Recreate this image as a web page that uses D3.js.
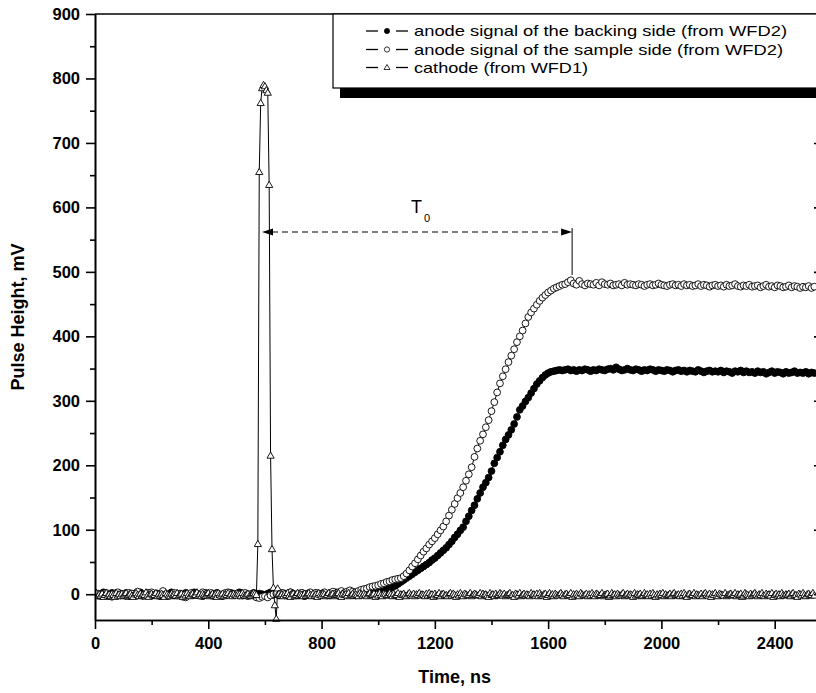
<!DOCTYPE html>
<html>
<head>
<meta charset="utf-8">
<script src="https://cdn.jsdelivr.net/npm/d3@7"></script>
<style>
  html, body { margin: 0; padding: 0; background: #fff; }
  svg { display: block; }
  text { font-family: Arial, "Liberation Sans", sans-serif; fill: #000; }
</style>
</head>
<body>
<svg id="chart" width="816" height="693"></svg>
<script>
// ---------------- DATA ----------------
const xTicks = [0, 400, 800, 1200, 1600, 2000, 2400];
const yTicks = [0, 100, 200, 300, 400, 500, 600, 700, 800, 900];
const xLabel = "Time, ns";
const yLabel = "Pulse Height, mV";
const legendLabels = [
  "anode signal of the backing side (from WFD2)",
  "anode signal of the sample side (from WFD2)",
  "cathode (from WFD1)"
];
// anode signals sampled every 10 ns starting at 0 ns
const anodeStepNs = 10;
const backingMV = [
  1,-2,0,3,-1,-3,2,0,-2,1, -1,2,-3,0,1,-2,3,-1,0,2, -2,0,1,-3,2,-1,0,3,-2,1, 0,-1,2,-2,1,3,-1,0,-3,2,
  1,-2,0,2,-1,-3,1,0,2,-1, 0,3,-2,1,-1,0,2,-3,1,0, -2,1,3,-1,0,-2,2,1,-1,3, 0,-2,1,2,-3,0,1,-1,2,0,
  -1,2,0,-2,1,3,-1,0,2,-1, 1,0,-2,2,1,0,3,1,2,1,
  3,4,5,7,9,11,13,16,19,22,
  25,28,31,34,37,40,43,46,49,53,
  56,60,64,68,72,77,82,88,93,99,
  104,113,121,130,138,148,157,166,173,181,
  191,203,212,221,231,240,247,255,264,275,
  286,292,299,305,312,319,326,331,336,340,
  343,345,346,347,348,347,348,349,347,348,
  346,348,347,349,348,346,348,347,349,348,
  347,349,350,348,352,349,347,348,350,348,
  347,349,348,346,348,347,349,348,346,348,
  347,346,348,347,345,347,348,346,347,345,
  347,346,345,348,346,344,346,347,345,346,
  345,347,344,346,345,343,346,345,347,344,
  346,344,345,343,346,344,345,342,344,346,
  343,345,344,342,345,343,344,346,343,344,
  343,345,342,344,343
];
const sampleMV = [
  -2,1,-3,0,2,-1,-4,1,3,-2, 0,-3,2,1,-2,4,-1,-3,0,2, 3,-1,-2,1,5,0,-3,-1,2,-2, 1,-4,-5,0,2,-1,1,-2,3,0,
  -1,2,-3,1,0,-2,2,3,-1,0, 1,-2,-1,2,-3,0,1,-5,-6,-4, -3,-5,-2,0,1,-1,2,-2,0,3, 1,-1,-2,2,0,1,3,-1,2,0,
  1,3,-2,2,4,1,3,5,2,4,
  6,4,3,5,7,8,9,11,12,13,
  14,16,17,19,20,22,23,24,25,28,
  32,37,43,48,54,60,66,71,77,82,
  87,93,99,105,113,122,131,140,149,157,
  166,176,186,197,213,226,238,248,259,270,
  284,298,313,327,338,349,360,370,380,391,
  400,409,420,430,437,443,449,455,460,464,
  468,471,474,476,478,480,481,484,487,482,
  480,486,481,479,482,481,480,483,479,484,
  481,480,482,479,480,481,479,483,480,481,
  480,479,481,480,478,480,481,479,480,482,
  480,479,478,480,481,479,480,478,481,479,
  480,478,479,481,478,480,479,477,479,480,
  478,479,477,480,478,479,481,478,477,479,
  478,480,477,478,479,476,478,480,477,478,
  476,479,478,476,477,479,476,478,477,475,
  477,476,478,475,477
];
// cathode sampled every 5 ns starting at 0 ns
const cathodeStepNs = 5;
const cathodeMV = [
  -1,2,-3,0,-2,1,-4,-1,2,-2,0,-3,1,-1,-4,2,-2,0,-3,1,
  -2,0,2,-3,-1,1,-2,-4,0,2,-1,-3,1,-2,0,-1,3,-2,-4,0,
  1,-2,-1,2,-3,0,-2,1,-1,-4,2,0,-2,-3,1,-1,0,-2,2,-3,
  -1,1,-4,0,-2,2,-1,-3,0,1,-2,-1,3,-2,0,-3,1,-1,-2,0,
  2,-3,-1,1,-2,0,-4,2,-1,-2,1,-3,0,-1,2,-2,0,-3,1,-1,
  -2,1,0,-3,2,-1,-2,0,1,-3,-2,0,2,1,-1,
  78,655,762,785,790,788,782,778,635,215,70,10,-17,-38,
  9,1,-2,0,-3,1,-1,2,-2,-4,0,1,-3,-1,2,-2,0,-1,-3,1,
  -2,0,2,-1,-3,1,-2,0,-4,2,-1,-2,1,0,-3,-1,2,-2,0,1,
  -3,-1,0,2,-2,-4,1,-1,0,-2,2,-3,-1,1,-2,0,-1,-3,2,0,
  -2,1,-1,-3,0,2,-2,-1,1,-4,0,-2,2,-1,-3,1,0,-2,-1,2,
  0,-3,1,-2,-1,2,-4,0,-1,1,-2,-3,0,2,-1,-2,1,-3,0,-1,
  2,-2,0,-1,-3,1,-2,2,-1,0,-4,1,-2,-1,2,-3,0,1,-2,-1,
  -3,0,2,-2,1,-1,-4,0,-2,2,-1,-3,1,0,-2,-1,2,-3,-1,1,
  0,-2,-1,2,-3,1,-1,0,-2,-4,2,-1,0,-3,1,-2,-1,2,0,-2,
  1,-3,-1,0,2,-2,-1,-4,1,0,-2,2,-3,-1,1,-2,0,-1,-3,2,
  -1,0,-2,1,-3,2,-1,-2,0,1,-4,-1,2,-2,0,-3,1,-1,-2,0,
  2,-1,-3,0,1,-2,-1,2,-4,0,-2,1,-1,-3,2,0,-2,-1,1,-3,
  0,-2,2,-1,-3,1,0,-2,-1,2,-3,-1,0,1,-4,-2,2,-1,0,-3,
  1,-1,-2,0,2,-3,-1,1,-2,0,-1,-4,2,-2,0,-1,1,-3,-2,2,
  -1,0,-3,1,-2,2,-1,-4,0,-2,1,-1,2,-3,0,-2,-1,1,-3,0,
  2,-2,-1,0,-3,1,-2,2,-1,-4,0,1,-2,-1,2,-3,0,-1,-2,1,
  -3,0,2,-1,-2,1,-4,0,-1,2,-2,-3,1,0,-1,-2,2,-3,-1,0,
  1,-2,-1,2,-3,0,-1,1,-4,-2,2,0,-1,-3,1,-2,0,2,-1,-3,
  0,-1,2,-2,-3,1,-1,0,-2,2,-4,-1,1,-2,0,-3,2,-1,-2,0,
  -1,1,-3,0,2,-2,-1,-4,1,0,-2,2,-1,-3,0,1,-2,-1,2,-2
];
// T0 annotation: from cathode peak to sample-side plateau start
const t0EndNs = 1690;

// ---------------- CHART ----------------
const svg = d3.select("#chart");
const x = d3.scaleLinear().domain([0, 2560]).range([95, 820]);
const y = d3.scaleLinear().domain([-40, 900]).range([620, 14]);
const fmt = d3.format("d");

const toPts = (arr, step) => arr.map((v, i) => ({t: i * step, v}));
const backing = toPts(backingMV, anodeStepNs);
const sample = toPts(sampleMV, anodeStepNs);
const cathode = toPts(cathodeMV, cathodeStepNs);

svg.append("defs").append("clipPath").attr("id", "plotclip")
  .append("rect").attr("x", x(0)).attr("y", y(900) - 6)
  .attr("width", x(2560) - x(0)).attr("height", y(-40) - y(900) + 12);

const line = d3.line().x(d => x(d.t)).y(d => y(d.v));
const plot = svg.append("g").attr("clip-path", "url(#plotclip)");

function drawSeries(data, kind) {
  const g = plot.append("g");
  g.append("path").datum(data).attr("d", line)
    .attr("fill", "none").attr("stroke", "#000").attr("stroke-width", 1);
  if (kind === "tri") {
    g.selectAll("path.sym").data(data).enter().append("path")
      .attr("class", "sym")
      .attr("d", d => { const cx = x(d.t), cy = y(d.v);
        return `M${cx},${cy-3.6}L${cx+3.6},${cy+2.6}L${cx-3.6},${cy+2.6}Z`; })
      .attr("fill", "#fff").attr("stroke", "#000").attr("stroke-width", 0.9);
  } else {
    g.selectAll("circle").data(data).enter().append("circle")
      .attr("cx", d => x(d.t)).attr("cy", d => y(d.v)).attr("r", 3.4)
      .attr("fill", kind === "filled" ? "#000" : "#fff")
      .attr("stroke", "#000").attr("stroke-width", 0.9);
  }
}
drawSeries(backing, "filled");
drawSeries(sample, "open");
drawSeries(cathode, "tri");

// ---------------- AXES ----------------
const axStroke = 1.6;
function styleAxis(g) {
  g.select(".domain").attr("stroke", "#000").attr("stroke-width", axStroke);
  g.selectAll(".tick line").attr("stroke", "#000").attr("stroke-width", axStroke);
}
function styleLabels(g) {
  g.selectAll(".tick text").attr("font-size", 16.5).attr("font-weight", "bold")
    .attr("font-family", "Arial, 'Liberation Sans', sans-serif").attr("fill", "#000");
}
const xMinor = d3.range(200, 2560, 400);
const yMinor = d3.range(50, 900, 100);

// bottom
svg.append("g").attr("transform", `translate(0,${y(-40)})`)
  .call(d3.axisBottom(x).tickValues(xMinor).tickSize(5).tickFormat("").tickSizeOuter(0))
  .call(styleAxis);
svg.append("g").attr("transform", `translate(0,${y(-40)})`)
  .call(d3.axisBottom(x).tickValues(xTicks).tickSize(9).tickPadding(8).tickSizeOuter(0).tickFormat(fmt))
  .call(styleAxis).call(styleLabels);
// left
svg.append("g").attr("transform", `translate(${x(0)},0)`)
  .call(d3.axisLeft(y).tickValues(yMinor).tickSize(5).tickFormat("").tickSizeOuter(0))
  .call(styleAxis);
svg.append("g").attr("transform", `translate(${x(0)},0)`)
  .call(d3.axisLeft(y).tickValues(yTicks).tickSize(9).tickPadding(6).tickSizeOuter(0).tickFormat(fmt))
  .call(styleAxis).call(styleLabels);
// right (inward ticks)
svg.append("g").attr("transform", `translate(${x(2560)},0)`)
  .call(d3.axisLeft(y).tickValues(yMinor).tickSize(3).tickFormat("").tickSizeOuter(0))
  .call(styleAxis);
svg.append("g").attr("transform", `translate(${x(2560)},0)`)
  .call(d3.axisLeft(y).tickValues(yTicks).tickSize(6).tickFormat("").tickSizeOuter(0))
  .call(styleAxis);
// top
svg.append("line").attr("x1", x(0)).attr("x2", x(2560)).attr("y1", y(900)).attr("y2", y(900))
  .attr("stroke", "#000").attr("stroke-width", axStroke);

// axis titles
svg.append("text").attr("x", (x(0) + x(2540)) / 2).attr("y", 683)
  .attr("text-anchor", "middle").attr("font-size", 18).attr("font-weight", "bold").text(xLabel);
svg.append("text").attr("transform", `translate(24,${(y(900) + y(-40)) / 2}) rotate(-90)`)
  .attr("text-anchor", "middle").attr("font-size", 18).attr("font-weight", "bold").text(yLabel);

// ---------------- T0 annotation ----------------
const ann = svg.append("g");
const ay = 232;
const axL = 262, axR = x(t0EndNs) - 1.5;
ann.append("line").attr("x1", axL + 10).attr("x2", axR - 10).attr("y1", ay).attr("y2", ay)
  .attr("stroke", "#000").attr("stroke-width", 1).attr("stroke-dasharray", "6,4");
ann.append("path").attr("d", `M${axL},${ay}L${axL + 11},${ay - 3.5}L${axL + 11},${ay + 3.5}Z`).attr("fill", "#000");
ann.append("path").attr("d", `M${axR},${ay}L${axR - 11},${ay - 3.5}L${axR - 11},${ay + 3.5}Z`).attr("fill", "#000");
ann.append("line").attr("x1", axR).attr("x2", axR).attr("y1", 228).attr("y2", 275)
  .attr("stroke", "#000").attr("stroke-width", 1);
ann.append("text").attr("x", 411).attr("y", 213).attr("font-size", 18).text("T");
ann.append("text").attr("x", 424).attr("y", 222).attr("font-size", 11).text("0");

// ---------------- LEGEND ----------------
const lg = svg.append("g");
lg.append("rect").attr("x", 340).attr("y", 24).attr("width", 520).attr("height", 74).attr("fill", "#000");
lg.append("rect").attr("x", 333).attr("y", 14).attr("width", 520).attr("height", 74)
  .attr("fill", "#fff").attr("stroke", "#000").attr("stroke-width", 1.2);
const rowY = [31, 49.5, 67.5];
const textEnds = [787, 783, 588];
const kinds = ["filled", "open", "tri"];
legendLabels.forEach((lab, i) => {
  const cy = rowY[i];
  lg.append("line").attr("x1", 366).attr("x2", 378).attr("y1", cy).attr("y2", cy).attr("stroke", "#000").attr("stroke-width", 1.3);
  lg.append("line").attr("x1", 396).attr("x2", 408).attr("y1", cy).attr("y2", cy).attr("stroke", "#000").attr("stroke-width", 1.3);
  if (kinds[i] === "tri") {
    lg.append("path").attr("d", `M387,${cy-3}L390,${cy+2}L384,${cy+2}Z`).attr("fill", "#fff").attr("stroke", "#000").attr("stroke-width", 0.8);
  } else {
    lg.append("circle").attr("cx", 387).attr("cy", cy).attr("r", 2.6)
      .attr("fill", kinds[i] === "filled" ? "#000" : "#fff").attr("stroke", "#000").attr("stroke-width", 0.8);
  }
  lg.append("text").attr("x", 414).attr("y", cy + 5).attr("font-size", 15)
    .attr("textLength", textEnds[i] - 414).attr("lengthAdjust", "spacingAndGlyphs").text(lab);
});
</script>
</body>
</html>
